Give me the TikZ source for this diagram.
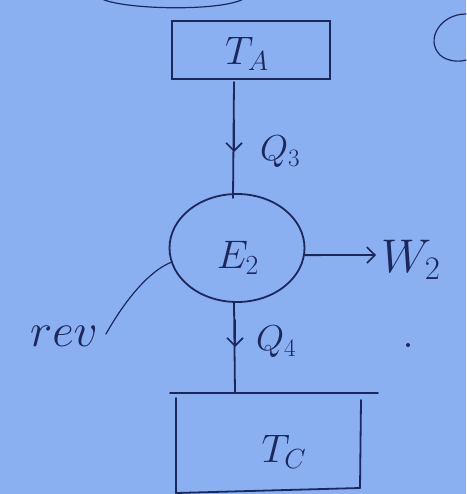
\documentclass[tikz,border=0pt]{standalone}
\usetikzlibrary{arrows.meta,shapes.geometric}
\definecolor{paper}{RGB}{138,176,242}
\definecolor{ink}{RGB}{28,40,92}
\newcommand{\hugetxt}[1]{\scalebox{1.9}{#1}}
\newcommand{\bigtxt}[1]{\scalebox{1.6}{#1}}
\newcommand{\midtxt}[1]{\scalebox{1.45}{#1}}
\begin{document}
\begin{tikzpicture}[x=1pt,y=-1pt,
  pen/.style={draw=ink,line width=1.8pt,line cap=round,line join=round},
  thin pen/.style={draw=ink,line width=1.2pt,line cap=round},
  lbl/.style={text=ink,font=\fontsize{24}{26}\selectfont,inner sep=0pt},
  flow/.style={pen,-{Straight Barb[length=8pt,width=16pt,line width=1.6pt]}}]
\fill[paper] (0,0) rectangle (466,494);
\useasboundingbox (0,0) rectangle (466,494);
% partial marks at the edges
\draw[thin pen] (100,-2) .. controls (120,10) and (225,12) .. (245,-2);
\draw[thin pen] (466,14) .. controls (440,14) and (425,40) .. (440,55) .. controls (448,62) and (460,62) .. (466,60);
% hot reservoir
\node[draw=ink,line width=1.8pt,minimum width=158pt,minimum height=58pt,inner sep=0pt] (TA) at (251,50) {};
\node[lbl] (tA) at (247,54) {\bigtxt{$T_A$}};
% engine
\node[draw=ink,line width=1.8pt,ellipse,minimum width=135pt,minimum height=108pt,inner sep=0pt] (E) at (237,248) {};
\node[lbl] (eE) at (238,258) {\bigtxt{$E_2$}};
% cold reservoir
\coordinate (TCtl) at (170,393);
\coordinate (TCtr) at (378,393);
\coordinate (TCbl) at (176,493);
\coordinate (TCbr) at (360,488);
\draw[pen] (TCtl) -- (TCtr);
\draw[pen] (176,398) -- (TCbl);
\draw[pen] (TCbl) -- (TCbr);
\draw[pen] (361,400) -- (TCbr);
\coordinate (TCtop) at (235,393);
\node[lbl] (tC) at (284,452) {\bigtxt{$T_C$}};
% Q3
\coordinate (q3a) at (234,152);
\draw[pen] (234,82) -- (233,198);
\draw[flow] (234,120) -- (q3a);
\node[lbl,anchor=west] (Q3) at (260,152) {\midtxt{$Q_3$}};
% Q4
\coordinate (q4a) at (235,347);
\draw[pen] (234,303) -- (TCtop);
\draw[flow] (235,320) -- (q4a);
\node[lbl,anchor=west] (Q4) at (256,342) {\midtxt{$Q_4$}};
% W2
\coordinate (Wend) at (376,255);
\node[lbl,anchor=west] (W2) at (381,260) {\hugetxt{$W_2$}};
\draw[flow] (E.-6) -- (Wend);
% rev
\node[lbl,anchor=east] (rev) at (98,336) {\hugetxt{$rev$}};
\draw[thin pen] (106,334) .. controls (125,300) and (150,270) .. (172,262);
\fill[ink] (408,345) circle (2pt);
\end{tikzpicture}
\end{document}
